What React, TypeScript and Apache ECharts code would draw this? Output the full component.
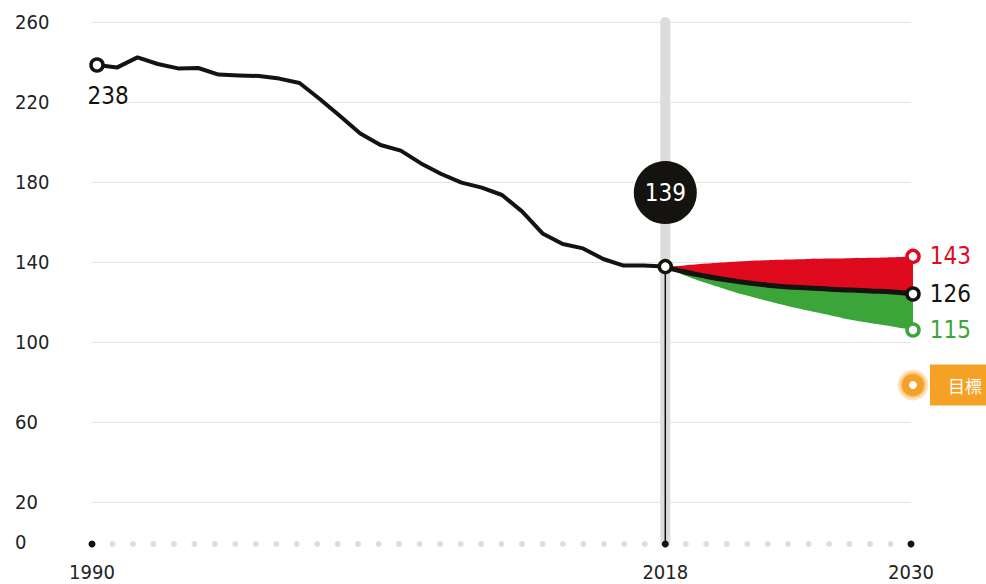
import React, { useEffect, useRef } from 'react';
import * as echarts from 'echarts';

const histYears = [1990, 1991, 1992, 1993, 1994, 1995, 1996, 1997, 1998, 1999, 2000, 2001, 2002, 2003, 2004, 2005, 2006, 2007, 2008, 2009, 2010, 2011, 2012, 2013, 2014, 2015, 2016, 2017, 2018];
const histValues = [238.5, 237.3, 242.3, 239, 236.8, 237, 233.7, 233.3, 233, 231.7, 229.5, 221.5, 213, 204.3, 198.5, 195.7, 189.3, 184, 179.7, 177.2, 173.5, 165.2, 154.3, 149, 146.8, 141.5, 138.2, 138.2, 137.7];

const projYears = ['2018', '2019', '2020', '2021', '2022', '2023', '2024', '2025', '2026', '2027', '2028', '2029', '2030'];
const projHigh = [137.7, 138.3, 139.2, 139.9, 140.5, 140.9, 141.2, 141.5, 141.7, 141.9, 142.1, 142.4, 142.8];
const projMid = [137.7, 135, 132.9, 131.1, 129.6, 128.4, 127.5, 127, 126.4, 126, 125.5, 125, 124];
const projLow = [137.7, 133.3, 129.6, 126.3, 123.2, 120.5, 117.9, 115.6, 113.4, 111.1, 109.4, 107.8, 106];

const yTickLabels = [0, 20, 60, 100, 140, 180, 220, 260];
const xTickLabels = [1990, 2018, 2030];
const dotYears = Array.from({ length: 41 }, (_, i) => 1990 + i);

const startLabel = '238';
const pivotLabel = '139';
const endLabelTexts = ['143', '126', '115'];
const targetYear = '2030';
const targetValue = 78.5;
const targetLabel = '目標';

const RED = '#e00a1e';
const GREEN = '#3ba53a';
const BLACK = '#14130f';
const ORANGE = '#f5a126';
const GRID = '#e4e4e4';
const BAND = '#dcdcdc';
const DOT = '#dddddd';
const FONT = "'Liberation Sans Narrow', 'DejaVu Sans Condensed', Roboto, sans-serif";
const CJK = "'Noto Sans CJK TC', 'Noto Sans CJK SC', sans-serif";

export default function App() {
  const ref = useRef<HTMLDivElement>(null);

  useEffect(() => {
    if (!ref.current) return;
    const chart = echarts.init(ref.current, undefined, { renderer: 'svg' });
    const lastHist = histValues[histValues.length - 1];
    const last = (a: number[]) => a[a.length - 1];
    const lastYear = projYears[projYears.length - 1];

    const ring = (color: string) => ({ color: '#fff', borderColor: color, borderWidth: 3.5, opacity: 1 });

    chart.setOption({
      animation: false,
      grid: [
        { left: 92, right: 75, top: 22, bottom: 42 },
        { left: 664, right: 73, top: 22, bottom: 42 },
      ],
      xAxis: [
        {
          type: 'value',
          gridIndex: 0,
          min: 1990,
          max: 2030,
          interval: 1,
          axisLine: { show: false },
          axisTick: { show: false },
          splitLine: { show: false },
          axisLabel: {
            formatter: (v: number) => (xTickLabels.includes(v) ? String(v) : ''),
            margin: 20,
            fontSize: 20,
            color: '#222',
            fontFamily: FONT,
            showMinLabel: true,
            showMaxLabel: true,
          },
        },
        {
          type: 'value',
          gridIndex: 0,
          min: 1989.753,
          max: 2030.197,
          show: false,
        },
        {
          type: 'category',
          gridIndex: 1,
          data: projYears,
          boundaryGap: false,
          show: false,
        },
      ],
      yAxis: [
        {
          type: 'value',
          gridIndex: 0,
          min: 0,
          max: 260,
          interval: 20,
          axisLine: { show: false },
          axisTick: { show: false },
          axisLabel: {
            formatter: (v: number) => (yTickLabels.includes(v) ? String(v) : ''),
            align: 'left',
            margin: 77,
            fontSize: 20,
            color: '#222',
            fontFamily: FONT,
          },
          splitLine: { show: true, lineStyle: { color: ['transparent', GRID], width: 1 } },
        },
        {
          type: 'value',
          gridIndex: 1,
          min: 0,
          max: 260,
          show: false,
          splitLine: { show: false },
        },
      ],
      series: [
        {
          name: 'band',
          type: 'line',
          xAxisIndex: 0,
          yAxisIndex: 0,
          data: [[2018, 0], [2018, 260]],
          symbol: 'none',
          silent: true,
          lineStyle: { width: 10, color: BAND, cap: 'round' },
          z: 1,
        },
        {
          name: 'dots',
          type: 'scatter',
          xAxisIndex: 0,
          yAxisIndex: 0,
          clip: false,
          silent: true,
          data: dotYears.map((y) => ({
            value: [y, -1],
            symbolSize: xTickLabels.includes(y) ? 7 : 6,
            itemStyle: { color: xTickLabels.includes(y) ? BLACK : DOT, opacity: 1 },
          })),
          z: 2,
        },
        {
          name: 'history',
          type: 'line',
          xAxisIndex: 1,
          yAxisIndex: 0,
          data: histYears.map((y, i) => [y, histValues[i]]),
          symbol: 'none',
          lineStyle: { width: 4, color: BLACK, join: 'round' },
          z: 3,
        },
        {
          name: 'hiBase',
          type: 'line',
          xAxisIndex: 2,
          yAxisIndex: 1,
          stack: 'hi',
          smooth: 0.4,
          data: projMid,
          symbol: 'none',
          lineStyle: { width: 0, opacity: 0 },
          z: 3,
        },
        {
          name: 'hiBand',
          type: 'line',
          xAxisIndex: 2,
          yAxisIndex: 1,
          stack: 'hi',
          smooth: 0.4,
          data: projHigh.map((v, i) => +(v - projMid[i]).toFixed(2)),
          symbol: 'none',
          lineStyle: { width: 0, opacity: 0 },
          areaStyle: { color: RED, opacity: 1 },
          z: 3,
        },
        {
          name: 'loBase',
          type: 'line',
          xAxisIndex: 2,
          yAxisIndex: 1,
          stack: 'lo',
          smooth: 0.4,
          data: projLow,
          symbol: 'none',
          lineStyle: { width: 0, opacity: 0 },
          z: 3,
        },
        {
          name: 'loBand',
          type: 'line',
          xAxisIndex: 2,
          yAxisIndex: 1,
          stack: 'lo',
          smooth: 0.4,
          data: projMid.map((v, i) => +(v - projLow[i]).toFixed(2)),
          symbol: 'none',
          lineStyle: { width: 0, opacity: 0 },
          areaStyle: { color: GREEN, opacity: 1 },
          z: 3,
        },
        {
          name: 'mid',
          type: 'line',
          xAxisIndex: 2,
          yAxisIndex: 1,
          smooth: 0.4,
          data: projMid,
          symbol: 'none',
          lineStyle: { width: 5, color: BLACK },
          z: 4,
        },
        {
          name: 'drop',
          type: 'line',
          xAxisIndex: 0,
          yAxisIndex: 0,
          clip: false,
          data: [[2018, lastHist], [2018, -1]],
          symbol: 'none',
          lineStyle: { width: 1.5, color: BLACK },
          z: 4,
        },
        {
          name: 'start',
          type: 'scatter',
          xAxisIndex: 1,
          yAxisIndex: 0,
          data: [[histYears[0], histValues[0]]],
          symbol: 'circle',
          symbolSize: 12,
          itemStyle: ring(BLACK),
          label: {
            show: true,
            formatter: startLabel,
            position: 'bottom',
            distance: 11,
            offset: [11, 0],
            fontSize: 24,
            color: BLACK,
            fontFamily: FONT,
          },
          z: 6,
        },
        {
          name: 'pivot',
          type: 'scatter',
          xAxisIndex: 0,
          yAxisIndex: 0,
          data: [[2018, lastHist]],
          symbol: 'circle',
          symbolSize: 12,
          itemStyle: ring(BLACK),
          markPoint: {
            silent: true,
            symbol: 'circle',
            symbolSize: 63,
            symbolOffset: [0, -74],
            itemStyle: { color: BLACK, opacity: 1 },
            label: {
              show: true,
              formatter: pivotLabel,
              color: '#fff',
              fontSize: 24,
              fontFamily: FONT,
            },
            data: [{ coord: [2018, lastHist] }],
          },
          z: 6,
        },
        {
          name: 'ends',
          type: 'scatter',
          xAxisIndex: 2,
          yAxisIndex: 1,
          data: [
            { value: [lastYear, last(projHigh)], itemStyle: ring(RED), label: { color: RED, formatter: endLabelTexts[0] } },
            { value: [lastYear, last(projMid)], itemStyle: ring(BLACK), label: { color: BLACK, formatter: endLabelTexts[1] } },
            { value: [lastYear, last(projLow)], itemStyle: ring(GREEN), label: { color: GREEN, formatter: endLabelTexts[2] } },
          ],
          symbol: 'circle',
          symbolSize: 12,
          label: {
            show: true,
            position: 'right',
            distance: 9,
            fontSize: 24,
            fontFamily: FONT,
          },
          z: 6,
        },
        {
          name: 'targetHalo',
          type: 'scatter',
          xAxisIndex: 2,
          yAxisIndex: 1,
          silent: true,
          data: [
            { value: [targetYear, targetValue], symbolSize: 31, itemStyle: { color: 'rgba(245,161,38,0.28)', opacity: 1 } },
            { value: [targetYear, targetValue], symbolSize: 26, itemStyle: { color: 'rgba(245,161,38,0.45)', opacity: 1 } },
          ],
          symbol: 'circle',
          z: 5,
        },
        {
          name: 'target',
          type: 'scatter',
          xAxisIndex: 2,
          yAxisIndex: 1,
          data: [[targetYear, targetValue]],
          symbol: 'circle',
          symbolSize: 15,
          itemStyle: { color: '#fff', borderColor: ORANGE, borderWidth: 7, opacity: 1 },
          label: {
            show: true,
            formatter: targetLabel,
            position: 'right',
            distance: 6,
            backgroundColor: ORANGE,
            padding: [12, 8, 12, 18],
            fontSize: 17,
            lineHeight: 17,
            color: '#fff',
            fontFamily: CJK,
          },
          z: 6,
        },
      ],
    });
    return () => chart.dispose();
  }, []);

  return <div ref={ref} style={{ position: 'absolute', left: 0, top: 0, width: 986, height: 584 }} />;
}
